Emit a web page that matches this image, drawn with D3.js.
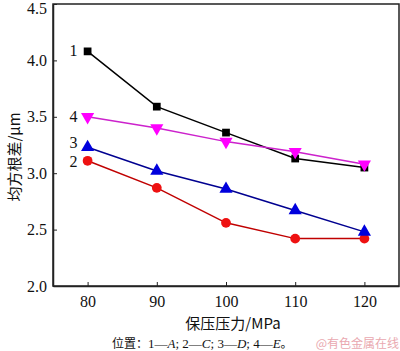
<!DOCTYPE html>
<html><head><meta charset="utf-8">
<script src="https://cdn.jsdelivr.net/npm/d3@7"></script>
<style>body{margin:0;background:#fff}svg{display:block}</style>
</head><body>
<script>
const pressures = [80, 90, 100, 110, 120];
const series1 = [4.08, 3.59, 3.36, 3.13, 3.05];
const series2 = [3.11, 2.87, 2.56, 2.42, 2.42];
const series3 = [3.23, 3.02, 2.86, 2.67, 2.48];
const series4 = [3.50, 3.40, 3.28, 3.19, 3.08];
const seriesLabels = ["1", "2", "3", "4"];
const xTicks = [80, 90, 100, 110, 120];
const yTicks = [2.0, 2.5, 3.0, 3.5, 4.0, 4.5];

const W = 400, H = 351;
const svg = d3.select("body").append("svg").attr("width", W).attr("height", H);
const x = d3.scaleLinear().domain([75, 125]).range([53, 399]);
const y = d3.scaleLinear().domain([2.0, 4.5]).range([286, 4]);
const serif = "'Liberation Serif','Times New Roman',serif";
const cjk = "'Noto Sans CJK SC',sans-serif";

// frame
svg.append("rect").attr("x", 53).attr("y", 4).attr("width", 346).attr("height", 282)
  .attr("fill", "none").attr("stroke", "#222").attr("stroke-width", 1.5);

const xAxis = svg.append("g").attr("transform", "translate(0,286)")
  .call(d3.axisBottom(x).tickValues(xTicks).tickSizeInner(-4).tickSizeOuter(0).tickPadding(10));
const yAxis = svg.append("g").attr("transform", "translate(53,0)")
  .call(d3.axisLeft(y).tickValues(yTicks).tickFormat(d3.format(".1f")).tickSizeInner(-4).tickSizeOuter(0).tickPadding(6));
[xAxis, yAxis].forEach(a => {
  a.select(".domain").attr("stroke", "#222").attr("stroke-width", 1.5);
  a.selectAll("line").attr("stroke", "#222");
  a.selectAll("text").attr("font-family", serif).attr("font-size", 16).attr("fill", "#111");
});
yAxis.selectAll(".tick text").filter(d => d === 4.5).attr("dy", "0.62em");

const defs = [
  {vals: series1, line: "#000", fill: "#000", sym: d3.symbolSquare, size: 60, rot: 0},
  {vals: series2, line: "#c00000", fill: "#ee1111", sym: d3.symbolCircle, size: 75, rot: 0},
  {vals: series3, line: "#000090", fill: "#0000dd", sym: d3.symbolTriangle, size: 75, rot: 0},
  {vals: series4, line: "#cc22cc", fill: "#ff00ff", sym: d3.symbolTriangle, size: 75, rot: 180}
];
const line = d3.line().x((d, i) => x(pressures[i])).y(d => y(d));
defs.forEach(s => {
  svg.append("path").attr("d", line(s.vals)).attr("fill", "none")
    .attr("stroke", s.line).attr("stroke-width", 1.5);
});
defs.forEach(s => {
  svg.append("g").selectAll("path").data(s.vals).join("path")
    .attr("d", d3.symbol().type(s.sym).size(s.size))
    .attr("transform", (d, i) => `translate(${x(pressures[i])},${y(d)}) rotate(${s.rot})`)
    .attr("fill", s.fill);
});

// series labels
const labelY = [series1[0], series2[0], series3[0], series4[0]];
const labelShift = [5, 6, 1, 5];
svg.append("g").selectAll("text").data(seriesLabels).join("text")
  .attr("x", x(pressures[0]) - 10).attr("y", (d, i) => y(labelY[i]) + labelShift[i])
  .attr("text-anchor", "end").attr("font-family", serif).attr("font-size", 16).attr("fill", "#111")
  .text(d => d);

// axis titles
svg.append("text").attr("transform", "translate(20,157) rotate(-90)")
  .attr("text-anchor", "middle").attr("font-family", cjk).attr("font-size", 15).attr("fill", "#111")
  .text("均方根差/μm");
svg.append("text").attr("x", 233).attr("y", 329).attr("text-anchor", "middle")
  .attr("font-family", cjk).attr("font-size", 15).attr("fill", "#111")
  .text("保压压力/MPa");

// caption
const cap = svg.append("text").attr("x", 112).attr("y", 348).attr("font-family", serif).attr("font-size", 13).attr("fill", "#111");
cap.append("tspan").attr("font-family", cjk).attr("font-size", 12).text("位置：");
[["1—", "A"], ["; 2—", "C"], ["; 3—", "D"], ["; 4—", "E"]].forEach(p => {
  cap.append("tspan").text(p[0]);
  cap.append("tspan").attr("font-style", "italic").text(p[1]);
});
cap.append("tspan").attr("font-family", cjk).attr("font-size", 12).text("。");

// watermark
svg.append("text").attr("x", 399).attr("y", 348).attr("text-anchor", "end")
  .attr("font-family", cjk).attr("font-size", 12).attr("fill", "#e8a0a8").attr("opacity", 0.9)
  .text("@有色金属在线");
</script>
</body></html>
